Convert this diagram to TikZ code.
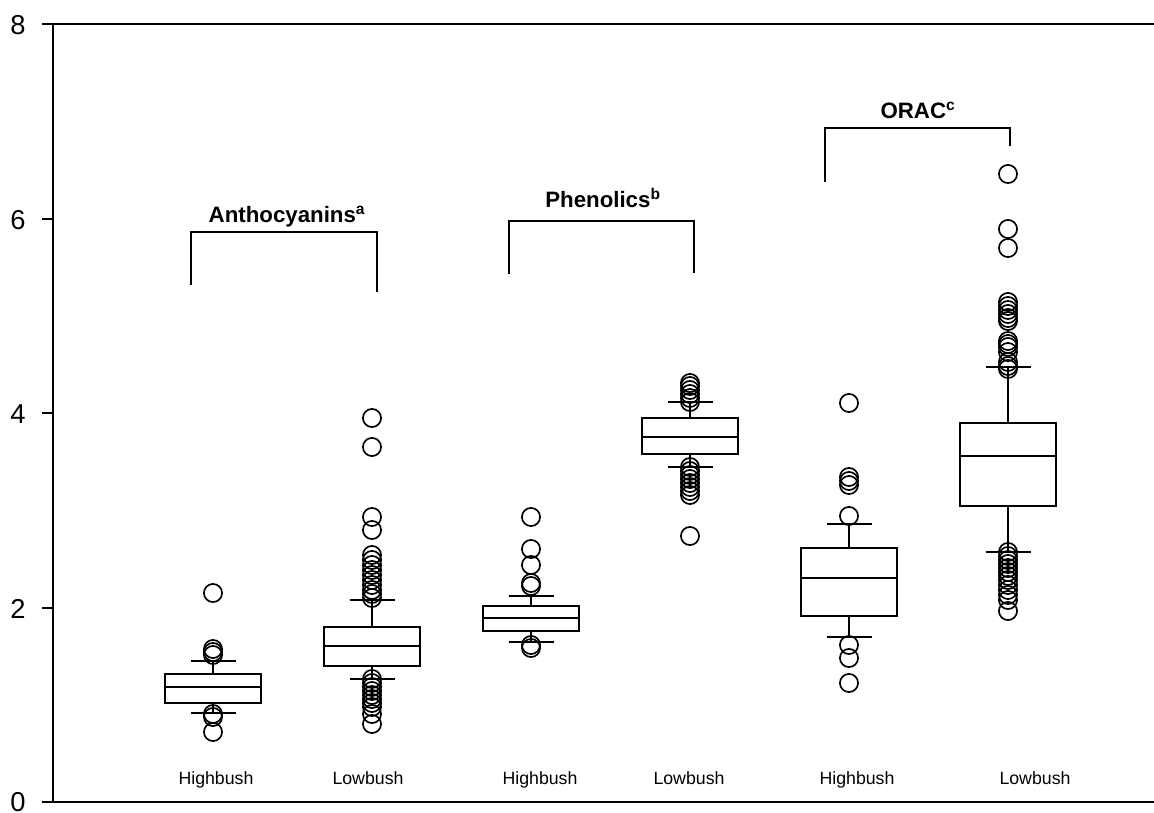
\documentclass[tikz,border=0pt]{standalone}
\usepackage{fontspec}
\setmainfont{Liberation Sans}
\begin{document}
\begin{tikzpicture}[x=0.75pt,y=-0.75pt,
  axisline/.style={line width=1.5pt},
  boxline/.style={line width=1.5pt},
  outlier/.style={line width=1.25pt},
  bracket/.style={line width=1.3pt},
  ticklab/.style={inner sep=0pt,font=\fontsize{20.5}{22}\selectfont},
  catlab/.style={inner sep=0pt,anchor=base,font=\fontsize{13.3}{15}\selectfont},
  grouplab/.style={inner sep=0pt,anchor=base,font=\fontsize{16.7}{18}\selectfont\bfseries}]
\useasboundingbox (0,0) rectangle (1154,813);
% axes
\coordinate (ytop) at (53,24);
\coordinate (ybot) at (53,802);
\draw[axisline] (ytop) -- (ybot);
\draw[axisline] (42,24) -- (1154,24);
\draw[axisline] (42,802) -- (1154,802);
\foreach \yy in {219,413,608} \draw[axisline] (42,\yy) -- (53,\yy);
\node[ticklab] (t8) at (18,25) {8};
\node[ticklab] (t6) at (18,220) {6};
\node[ticklab] (t4) at (18,414) {4};
\node[ticklab] (t2) at (18,609) {2};
\node[ticklab] (t0) at (18,802) {0};
% box plot macro: cx, top, median, bottom, upper cap, lower cap
\newcommand{\mybxp}[6]{%
  \draw[boxline] ({#1-48},#2) rectangle ({#1+48},#4);
  \draw[boxline] ({#1-48},#3) -- ({#1+48},#3);
  \draw[boxline] (#1,#2) -- (#1,#5);
  \draw[boxline] (#1,#4) -- (#1,#6);
  \draw[boxline] ({#1-22.5},#5) -- ({#1+22.5},#5);
  \draw[boxline] ({#1-22.5},#6) -- ({#1+22.5},#6);}
\newcommand{\myouts}[2]{\foreach \yy in {#2} \draw[outlier] (#1,\yy) circle[radius=6.8pt];}
% Anthocyanins
\mybxp{213}{674}{687}{703}{661}{713}
\myouts{213}{593,649,652,655,714,717,732}
\mybxp{372}{627}{646}{666}{600}{679}
\myouts{372}{418,447,517,530,555,560,565,570,575,580,585,590,594,598,679,683,687,691,695,699,703,707,714,724}
% Phenolics
\mybxp{531}{606}{618}{631}{596}{642}
\myouts{531}{517,549,565,583,586,645,648}
\mybxp{690}{418}{437}{454}{402}{467}
\myouts{690}{383,386,390,394,398,402,467,471,475,479,483,487,491,495,536}
% ORAC
\mybxp{849}{548}{578}{616}{524}{637}
\myouts{849}{403,477,481,485,516,645,658,683}
\mybxp{1008}{423}{456}{506}{367}{552}
\myouts{1008}{174,229,248,302,306,310,314,318,321,341,344,347,352,362,366,369,552,556,560,564,568,572,576,580,585,590,595,600,611}
% brackets
\draw[bracket] (191,285) -- (191,232) -- (377,232) -- (377,292);
\draw[bracket] (509,274) -- (509,221) -- (694,221) -- (694,273);
\draw[bracket] (825,182) -- (825,128) -- (1010,128) -- (1010,146);
\node[grouplab] (ganth) at (287,223) {Anthocyanins\textsuperscript{a}};
\node[grouplab] (gphen) at (603,208) {Phenolics\textsuperscript{b}};
\node[grouplab] (gorac) at (918,119) {ORAC\textsuperscript{c}};
% category labels
\node[catlab] (c1) at (216,784) {Highbush};
\node[catlab] (c2) at (368,784) {Lowbush};
\node[catlab] (c3) at (540,784) {Highbush};
\node[catlab] (c4) at (689,784) {Lowbush};
\node[catlab] (c5) at (857,784) {Highbush};
\node[catlab] (c6) at (1035,784) {Lowbush};
\end{tikzpicture}
\end{document}
